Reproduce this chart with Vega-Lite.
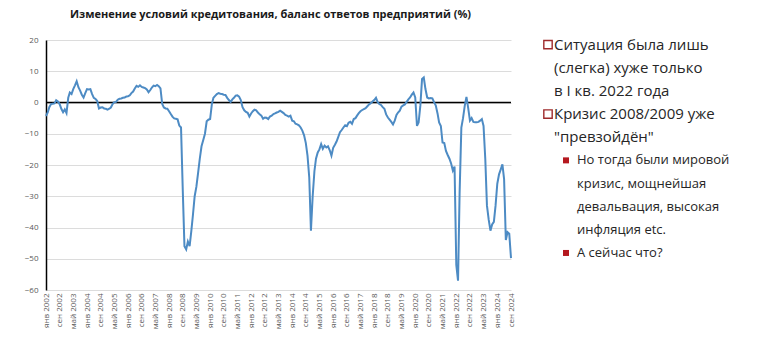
{
  "$schema": "https://vega.github.io/schema/vega-lite/v6.json",
  "background": "white",
  "padding": {"top": 9, "left": 0, "right": 0, "bottom": 0},
  "spacing": 15,
  "config": {"view": {"stroke": null}, "font": "Open Sans", "axis": {"labelOverlap": false}},
  "datasets": {
    "s": [
      {"d":"2002-01","v":-4.3},{"d":"2002-02","v":-3.2},{"d":"2002-03","v":-1.5},{"d":"2002-04","v":-0.5},{"d":"2002-05","v":-0.4},{"d":"2002-06","v":-0.3},{"d":"2002-07","v":0.7},{"d":"2002-08","v":0.3},{"d":"2002-09","v":-0.5},{"d":"2002-10","v":-2},{"d":"2002-11","v":-3.1},{"d":"2002-12","v":-2.2},
      {"d":"2003-01","v":-3.4},{"d":"2003-02","v":1.5},{"d":"2003-03","v":3.2},{"d":"2003-04","v":2.7},{"d":"2003-05","v":4.3},{"d":"2003-06","v":5.5},{"d":"2003-07","v":6.8},{"d":"2003-08","v":4.9},{"d":"2003-09","v":3.8},{"d":"2003-10","v":2.5},{"d":"2003-11","v":1.6},{"d":"2003-12","v":3},
      {"d":"2004-01","v":4.3},{"d":"2004-02","v":4.2},{"d":"2004-03","v":4.3},{"d":"2004-04","v":2.7},{"d":"2004-05","v":1.5},{"d":"2004-06","v":1.1},{"d":"2004-07","v":0.5},{"d":"2004-08","v":-1.9},{"d":"2004-09","v":-1.6},{"d":"2004-10","v":-1.5},{"d":"2004-11","v":-1.9},{"d":"2004-12","v":-2},
      {"d":"2005-01","v":-2.3},{"d":"2005-02","v":-2},{"d":"2005-03","v":-1.6},{"d":"2005-04","v":-0.5},{"d":"2005-05","v":0.1},{"d":"2005-06","v":0.2},{"d":"2005-07","v":0.9},{"d":"2005-08","v":1.2},{"d":"2005-09","v":1.3},{"d":"2005-10","v":1.5},{"d":"2005-11","v":1.6},{"d":"2005-12","v":1.9},
      {"d":"2006-01","v":2},{"d":"2006-02","v":2.3},{"d":"2006-03","v":3},{"d":"2006-04","v":3.5},{"d":"2006-05","v":4.5},{"d":"2006-06","v":5.3},{"d":"2006-07","v":5},{"d":"2006-08","v":5.5},{"d":"2006-09","v":5},{"d":"2006-10","v":4.8},{"d":"2006-11","v":4.6},{"d":"2006-12","v":4.2},
      {"d":"2007-01","v":3.3},{"d":"2007-02","v":4},{"d":"2007-03","v":4.8},{"d":"2007-04","v":5.4},{"d":"2007-05","v":5.2},{"d":"2007-06","v":5.6},{"d":"2007-07","v":5.2},{"d":"2007-08","v":4.5},{"d":"2007-09","v":-0.5},{"d":"2007-10","v":-1.6},{"d":"2007-11","v":-1.9},{"d":"2007-12","v":-2},
      {"d":"2008-01","v":-2.8},{"d":"2008-02","v":-3.7},{"d":"2008-03","v":-4.5},{"d":"2008-04","v":-5.1},{"d":"2008-05","v":-5.2},{"d":"2008-06","v":-5.4},{"d":"2008-07","v":-7.4},{"d":"2008-08","v":-8},{"d":"2008-09","v":-28},{"d":"2008-10","v":-46},{"d":"2008-11","v":-47},{"d":"2008-12","v":-44.5},
      {"d":"2009-01","v":-46},{"d":"2009-02","v":-41},{"d":"2009-03","v":-36},{"d":"2009-04","v":-30},{"d":"2009-05","v":-27},{"d":"2009-06","v":-22.5},{"d":"2009-07","v":-18},{"d":"2009-08","v":-14},{"d":"2009-09","v":-12},{"d":"2009-10","v":-10},{"d":"2009-11","v":-6},{"d":"2009-12","v":-5.5},
      {"d":"2010-01","v":-5.3},{"d":"2010-02","v":-0.5},{"d":"2010-03","v":1.5},{"d":"2010-04","v":2.1},{"d":"2010-05","v":2.7},{"d":"2010-06","v":3},{"d":"2010-07","v":2.8},{"d":"2010-08","v":2.7},{"d":"2010-09","v":2.5},{"d":"2010-10","v":2.4},{"d":"2010-11","v":1.5},{"d":"2010-12","v":0.8},
      {"d":"2011-01","v":0.2},{"d":"2011-02","v":1},{"d":"2011-03","v":1.5},{"d":"2011-04","v":2.2},{"d":"2011-05","v":2.3},{"d":"2011-06","v":1.9},{"d":"2011-07","v":0.8},{"d":"2011-08","v":-1.5},{"d":"2011-09","v":-2.5},{"d":"2011-10","v":-3},{"d":"2011-11","v":-3.3},{"d":"2011-12","v":-4.5},
      {"d":"2012-01","v":-3.5},{"d":"2012-02","v":-2.8},{"d":"2012-03","v":-2.3},{"d":"2012-04","v":-2.5},{"d":"2012-05","v":-3.2},{"d":"2012-06","v":-3.8},{"d":"2012-07","v":-4.2},{"d":"2012-08","v":-5.2},{"d":"2012-09","v":-4.8},{"d":"2012-10","v":-4.9},{"d":"2012-11","v":-5.3},{"d":"2012-12","v":-4.5},
      {"d":"2013-01","v":-4.2},{"d":"2013-02","v":-3.7},{"d":"2013-03","v":-3.5},{"d":"2013-04","v":-3.2},{"d":"2013-05","v":-3},{"d":"2013-06","v":-2.6},{"d":"2013-07","v":-3},{"d":"2013-08","v":-3.4},{"d":"2013-09","v":-4},{"d":"2013-10","v":-4.2},{"d":"2013-11","v":-4.5},{"d":"2013-12","v":-4.2},
      {"d":"2014-01","v":-5.8},{"d":"2014-02","v":-6},{"d":"2014-03","v":-6.8},{"d":"2014-04","v":-7},{"d":"2014-05","v":-7.3},{"d":"2014-06","v":-8},{"d":"2014-07","v":-9},{"d":"2014-08","v":-10.5},{"d":"2014-09","v":-13},{"d":"2014-10","v":-17},{"d":"2014-11","v":-24},{"d":"2014-12","v":-41},
      {"d":"2015-01","v":-30},{"d":"2015-02","v":-22},{"d":"2015-03","v":-18},{"d":"2015-04","v":-16},{"d":"2015-05","v":-15},{"d":"2015-06","v":-13.3},{"d":"2015-07","v":-14.8},{"d":"2015-08","v":-13.8},{"d":"2015-09","v":-14.4},{"d":"2015-10","v":-14},{"d":"2015-11","v":-15.3},{"d":"2015-12","v":-17},
      {"d":"2016-01","v":-14.5},{"d":"2016-02","v":-13.5},{"d":"2016-03","v":-12.5},{"d":"2016-04","v":-11},{"d":"2016-05","v":-9.5},{"d":"2016-06","v":-8.8},{"d":"2016-07","v":-8},{"d":"2016-08","v":-7.3},{"d":"2016-09","v":-7.6},{"d":"2016-10","v":-6.5},{"d":"2016-11","v":-6.2},{"d":"2016-12","v":-6.8},
      {"d":"2017-01","v":-5.3},{"d":"2017-02","v":-5},{"d":"2017-03","v":-4.2},{"d":"2017-04","v":-3.4},{"d":"2017-05","v":-2.8},{"d":"2017-06","v":-2.4},{"d":"2017-07","v":-2.1},{"d":"2017-08","v":-1.8},{"d":"2017-09","v":-1.2},{"d":"2017-10","v":-0.6},{"d":"2017-11","v":-0.2},{"d":"2017-12","v":0.3},
      {"d":"2018-01","v":0.8},{"d":"2018-02","v":1.5},{"d":"2018-03","v":0.2},{"d":"2018-04","v":-0.5},{"d":"2018-05","v":-0.8},{"d":"2018-06","v":-1.5},{"d":"2018-07","v":-2},{"d":"2018-08","v":-3.8},{"d":"2018-09","v":-4.8},{"d":"2018-10","v":-5.5},{"d":"2018-11","v":-6.2},{"d":"2018-12","v":-7},
      {"d":"2019-01","v":-5.8},{"d":"2019-02","v":-4},{"d":"2019-03","v":-3.2},{"d":"2019-04","v":-2.6},{"d":"2019-05","v":-1.3},{"d":"2019-06","v":-0.9},{"d":"2019-07","v":-0.6},{"d":"2019-08","v":0.2},{"d":"2019-09","v":1},{"d":"2019-10","v":1.6},{"d":"2019-11","v":2.5},{"d":"2019-12","v":3.2},
      {"d":"2020-01","v":1.6},{"d":"2020-02","v":-7.5},{"d":"2020-03","v":-6.4},{"d":"2020-04","v":-1},{"d":"2020-05","v":7.5},{"d":"2020-06","v":8},{"d":"2020-07","v":4.3},{"d":"2020-08","v":1.6},{"d":"2020-09","v":1.3},{"d":"2020-10","v":1.4},{"d":"2020-11","v":1.3},{"d":"2020-12","v":0.1},
      {"d":"2021-01","v":-1},{"d":"2021-02","v":-3.5},{"d":"2021-03","v":-6.4},{"d":"2021-04","v":-7.5},{"d":"2021-05","v":-12.8},{"d":"2021-06","v":-13},{"d":"2021-07","v":-15.5},{"d":"2021-08","v":-16.8},{"d":"2021-09","v":-18},{"d":"2021-10","v":-19.5},{"d":"2021-11","v":-21.8},{"d":"2021-12","v":-20.5},
      {"d":"2022-01","v":-52},{"d":"2022-02","v":-57},{"d":"2022-03","v":-29},{"d":"2022-04","v":-8},{"d":"2022-05","v":-5},{"d":"2022-06","v":-1},{"d":"2022-07","v":1.8},{"d":"2022-08","v":-1.8},{"d":"2022-09","v":-5.8},{"d":"2022-10","v":-5},{"d":"2022-11","v":-6.2},{"d":"2022-12","v":-6.3},
      {"d":"2023-01","v":-6.3},{"d":"2023-02","v":-6.2},{"d":"2023-03","v":-5.8},{"d":"2023-04","v":-5.3},{"d":"2023-05","v":-7.5},{"d":"2023-06","v":-18},{"d":"2023-07","v":-33},{"d":"2023-08","v":-37.5},{"d":"2023-09","v":-41},{"d":"2023-10","v":-39},{"d":"2023-11","v":-38.2},{"d":"2023-12","v":-33},
      {"d":"2024-01","v":-26},{"d":"2024-02","v":-23},{"d":"2024-03","v":-21.5},{"d":"2024-04","v":-19.8},{"d":"2024-05","v":-24.5},{"d":"2024-06","v":-44},{"d":"2024-07","v":-41.5},{"d":"2024-08","v":-42},{"d":"2024-09","v":-49.8}
    ],
    "txt": [
      {"i":0,"lvl":1,"b":1,"t":"Ситуация была лишь"},
      {"i":1,"lvl":1,"b":0,"t":"(слегка) хуже только"},
      {"i":2,"lvl":1,"b":0,"t":"в I кв. 2022 года"},
      {"i":3,"lvl":1,"b":1,"t":"Кризис 2008/2009 уже"},
      {"i":4,"lvl":1,"b":0,"t":"\"превзойдён\""},
      {"i":5,"lvl":2,"b":1,"t":"Но тогда были мировой"},
      {"i":6,"lvl":2,"b":0,"t":"кризис, мощнейшая"},
      {"i":7,"lvl":2,"b":0,"t":"девальвация, высокая"},
      {"i":8,"lvl":2,"b":0,"t":"инфляция etc."},
      {"i":9,"lvl":2,"b":1,"t":"А сейчас что?"}
    ]
  },
  "hconcat": [
    {
      "width": 465,
      "height": 250,
      "title": {"text": "Изменение условий кредитования, баланс ответов предприятий (%)", "fontSize": 11, "fontWeight": "bold", "font": "Open Sans", "color": "#1a1a1a", "anchor": "middle", "offset": 16, "dx": -8},
      "encoding": {
        "y": {"field": "v", "type": "quantitative",
          "scale": {"domain": [-60, 20], "nice": false, "zero": false},
          "axis": {
            "values": [-60, -50, -40, -30, -20, -10, 0, 10, 20],
            "grid": true, "gridColor": "#dcdcdc", "gridWidth": 1,
            "domainColor": "#000000", "domainWidth": 1.5, "ticks": false,
            "labelFontSize": 8, "labelColor": "#595959", "labelFont": "Open Sans", "labelPadding": 8,
            "labelOverlap": false, "labelFlush": false,
            "minExtent": 46, "maxExtent": 46, "title": null
          }
        }
      },
      "layer": [
        {
          "data": {"values": [{"v": 0}]},
          "mark": {"type": "rule", "color": "#000000", "strokeWidth": 1.3}
        },
        {
          "data": {"name": "s"},
          "mark": {"type": "line", "color": "#4d8bc4", "strokeWidth": 2},
          "encoding": {
            "x": {"field": "d", "type": "temporal",
              "scale": {"type": "utc", "domain": [{"year": 2002, "month": 1, "date": 1, "utc": true}, {"year": 2024, "month": 9, "date": 1, "utc": true}], "nice": false},
              "axis": {
                "values": [
                  {"year":2002,"month":1,"utc":true},{"year":2002,"month":9,"utc":true},{"year":2003,"month":5,"utc":true},
                  {"year":2004,"month":1,"utc":true},{"year":2004,"month":9,"utc":true},{"year":2005,"month":5,"utc":true},
                  {"year":2006,"month":1,"utc":true},{"year":2006,"month":9,"utc":true},{"year":2007,"month":5,"utc":true},
                  {"year":2008,"month":1,"utc":true},{"year":2008,"month":9,"utc":true},{"year":2009,"month":5,"utc":true},
                  {"year":2010,"month":1,"utc":true},{"year":2010,"month":9,"utc":true},{"year":2011,"month":5,"utc":true},
                  {"year":2012,"month":1,"utc":true},{"year":2012,"month":9,"utc":true},{"year":2013,"month":5,"utc":true},
                  {"year":2014,"month":1,"utc":true},{"year":2014,"month":9,"utc":true},{"year":2015,"month":5,"utc":true},
                  {"year":2016,"month":1,"utc":true},{"year":2016,"month":9,"utc":true},{"year":2017,"month":5,"utc":true},
                  {"year":2018,"month":1,"utc":true},{"year":2018,"month":9,"utc":true},{"year":2019,"month":5,"utc":true},
                  {"year":2020,"month":1,"utc":true},{"year":2020,"month":9,"utc":true},{"year":2021,"month":5,"utc":true},
                  {"year":2022,"month":1,"utc":true},{"year":2022,"month":9,"utc":true},{"year":2023,"month":5,"utc":true},
                  {"year":2024,"month":1,"utc":true},{"year":2024,"month":9,"utc":true}
                ],
                "labelExpr": "(utcmonth(datum.value)==0 ? 'янв' : utcmonth(datum.value)==4 ? 'май' : 'сен') + ' ' + utcyear(datum.value)",
                "labelAngle": 270, "labelFontSize": 8, "labelColor": "#595959", "labelFont": "Open Sans",
                "domain": false, "ticks": false, "grid": false, "title": null, "labelPadding": 3,
                "labelOverlap": false, "labelFlush": false, "labelBound": false
              }
            }
          }
        }
      ]
    },
    {
      "width": 220,
      "height": 250,
      "data": {"name": "txt"},
      "encoding": {
        "x": {"field": "lvl", "type": "quantitative", "scale": {"domain": [1, 2], "range": [17, 35], "nice": false, "zero": false}, "axis": null},
        "y": {"field": "i", "type": "quantitative", "scale": {"domain": [-0.2, 10.6], "reverse": true, "nice": false, "zero": false}, "axis": null}
      },
      "layer": [
        {
          "transform": [{"filter": "datum.b == 1 && datum.lvl == 1"}],
          "mark": {"type": "point", "shape": "square", "size": 70, "filled": false, "stroke": "#9e2a2b", "strokeWidth": 1.4, "opacity": 1}
        },
        {
          "transform": [{"filter": "datum.b == 1 && datum.lvl == 2"}],
          "mark": {"type": "point", "shape": "square", "size": 36, "filled": true, "color": "#b5181f", "opacity": 1}
        },
        {
          "transform": [{"filter": "datum.lvl == 1"}],
          "mark": {"type": "text", "align": "left", "baseline": "middle", "dx": 6, "fontSize": 15, "font": "Open Sans", "color": "#262626"},
          "encoding": {"text": {"field": "t"}}
        },
        {
          "transform": [{"filter": "datum.lvl == 2"}],
          "mark": {"type": "text", "align": "left", "baseline": "middle", "dx": 11, "fontSize": 13, "font": "Open Sans", "color": "#262626"},
          "encoding": {"text": {"field": "t"}}
        }
      ]
    }
  ]
}
